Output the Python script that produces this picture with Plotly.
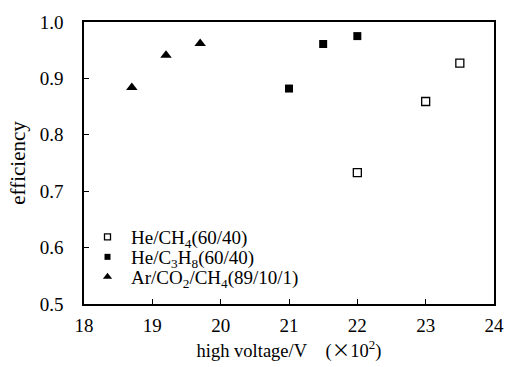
import plotly.graph_objects as go

he_ch4_x = [22.0, 23.0, 23.5]
he_ch4_y = [0.733, 0.859, 0.927]
he_c3h8_x = [21.0, 21.5, 22.0]
he_c3h8_y = [0.882, 0.961, 0.975]
ar_x = [18.7, 19.2, 19.7]
ar_y = [0.884, 0.941, 0.962]

names = ["He/CH<sub>4</sub>(60/40)", "He/C<sub>3</sub>H<sub>8</sub>(60/40)",
         "Ar/CO<sub>2</sub>/CH<sub>4</sub>(89/10/1)"]

font = "Liberation Serif"
fig = go.Figure()

series = [
    (he_ch4_x, he_ch4_y, "square-open", "white"),
    (he_c3h8_x, he_c3h8_y, "square", "black"),
    (ar_x, ar_y, "triangle-up", "black"),
]
legends = ["legend", "legend2", "legend3"]
for (xs, ys, sym, fill), nm, lg in zip(series, names, legends):
    size = 10 if sym == "triangle-up" else 8
    mk = dict(symbol="square" if sym == "square-open" else sym, size=size, color=fill,
              line=dict(color="black", width=1.3 if sym == "square-open" else 0))
    fig.add_trace(go.Scatter(x=xs, y=ys, mode="markers", marker=mk, showlegend=False, name=nm))
    mk2 = dict(mk)
    mk2["size"] = size - 2
    fig.add_trace(go.Scatter(x=[None], y=[None], mode="markers", marker=mk2, name=nm,
                             showlegend=True, legend=lg))

axis_common = dict(showline=True, linecolor="black", linewidth=1.5, mirror=True,
                   ticks="inside", ticklen=5, tickcolor="black", tickwidth=1,
                   showgrid=False, zeroline=False,
                   tickfont=dict(family=font, size=19, color="black"))

leg_common = dict(xanchor="left", yanchor="middle", font=dict(family=font, size=19, color="black"),
                  bgcolor="rgba(0,0,0,0)", itemwidth=37, x=0.0)

NB = "\u00a0"
xtitle = ("high voltage/V" + NB * 4 +
          "(<span style='font-family:Noto Sans CJK SC'>×</span>10<sup>2</sup>)")
fig.update_layout(
    width=515, height=367,
    margin=dict(l=84, r=11, t=22, b=63),
    plot_bgcolor="white", paper_bgcolor="white",
    font=dict(family=font, color="black"),
    xaxis=dict(range=[18, 24], dtick=1, tick0=18, ticklabelstandoff=3,
               title=dict(text=xtitle, font=dict(family=font, size=18.5), standoff=0),
               **axis_common),
    yaxis=dict(range=[0.5, 1.0], dtick=0.1, tickformat=".1f", ticklabelstandoff=15,
               title=dict(text="efficiency", font=dict(family=font, size=21), standoff=8),
               **axis_common),
    legend=dict(y=0.2376, **leg_common),
    legend2=dict(y=0.1667, **leg_common),
    legend3=dict(y=0.0957, **leg_common),
)

fig.write_html("out.html")
